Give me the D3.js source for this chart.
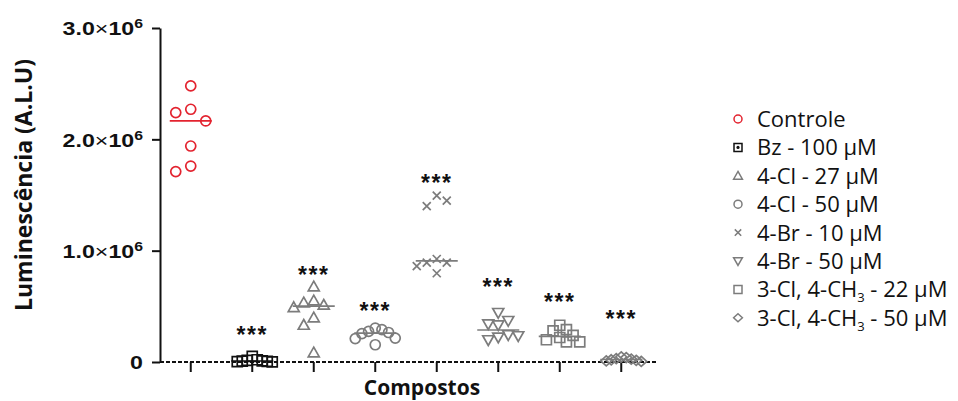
<!DOCTYPE html>
<html>
<head>
<meta charset="utf-8">
<script src="https://cdn.jsdelivr.net/npm/d3@7"></script>
<style>
  html, body { margin: 0; padding: 0; background: #fff; }
  svg { display: block; }
</style>
</head>
<body>
<div id="chart"></div>
<script>
// ---------------- DATA ----------------
const categories = [
  "Controle",
  "Bz - 100 µM",
  "4-Cl - 27 µM",
  "4-Cl - 50 µM",
  "4-Br - 10 µM",
  "4-Br - 50 µM",
  "3-Cl, 4-CH3 - 22 µM",
  "3-Cl, 4-CH3 - 50 µM"
];
const controle   = [2.48e6, 2.27e6, 2.24e6, 2.165e6, 1.94e6, 1.76e6, 1.71e6];
const bz100      = [0.05e6, 0.02e6, 0.015e6, 0.01e6, 0.008e6, 0.005e6, 0.003e6, 0.002e6];
const cl27       = [0.677e6, 0.551e6, 0.533e6, 0.512e6, 0.491e6, 0.398e6, 0.332e6, 0.084e6];
const cl50       = [0.305e6, 0.29e6, 0.275e6, 0.265e6, 0.255e6, 0.215e6, 0.21e6, 0.155e6];
const br10       = [1.494e6, 1.45e6, 1.40e6, 0.925e6, 0.892e6, 0.892e6, 0.862e6, 0.797e6];
const br50       = [0.443e6, 0.371e6, 0.341e6, 0.332e6, 0.243e6, 0.234e6, 0.222e6, 0.198e6];
const clch3_22   = [0.33e6, 0.29e6, 0.28e6, 0.24e6, 0.22e6, 0.20e6, 0.18e6, 0.18e6];
const clch3_50   = [0.045e6, 0.04e6, 0.03e6, 0.025e6, 0.02e6, 0.015e6, 0.01e6, 0.005e6];
const seriesValues = [controle, bz100, cl27, cl50, br10, br50, clch3_22, clch3_50];
// significance labels ("***") and their vertical positions (in data units)
const sigLabels = ["", "***", "***", "***", "***", "***", "***", "***"];
const sigY      = [null, 0.2875e6, 0.827e6, 0.506e6, 1.65e6, 0.721e6, 0.581e6, 0.431e6];
const yTicks = [0, 1e6, 2e6, 3e6];
const yTickLabels = ["0", "1.0×10^6", "2.0×10^6", "3.0×10^6"];
const yTitle = "Luminescência (A.L.U)";
const xTitle = "Compostos";

// ---------------- STYLE ----------------
const RED = "#e3232f", GRAY = "#7c7c7c", BLACK = "#111111";
const markerTypes = ["circle", "square", "triUp", "circle", "x", "triDown", "square", "diamond"];
const markerColors = [RED, BLACK, GRAY, GRAY, GRAY, GRAY, GRAY, GRAY];

const W = 958, H = 401;
const svg = d3.select("#chart").append("svg").attr("width", W).attr("height", H);

const x = d3.scalePoint().domain(categories).range([160, 652]).padding(0.5);
const y = d3.scaleLinear().domain([0, 3e6]).range([362, 28]);

function markerPath(type, s) {
  const h = s / 2;
  switch (type) {
    case "circle": {
      const p = d3.path(); p.moveTo(h, 0); p.arc(0, 0, h, 0, 2 * Math.PI); p.closePath(); return p.toString();
    }
    case "square": return `M${-h},${-h}H${h}V${h}H${-h}Z`;
    case "triUp": return `M0,${-s*0.55}L${s*0.55},${s*0.42}L${-s*0.55},${s*0.42}Z`;
    case "triDown": return `M0,${s*0.55}L${s*0.55},${-s*0.42}L${-s*0.55},${-s*0.42}Z`;
    case "x": { const a = s * 0.4; return `M${-a},${-a}L${a},${a}M${-a},${a}L${a},${-a}`; }
    case "diamond": return `M0,${-h}L${h*1.1},0L0,${h}L${-h*1.1},0Z`;
  }
}

// scatter spreading in rows (points closer than R px vertically get side slots of S px)
function swarm(vals, S, R, maxHalf) {
  const pts = vals.map(v => ({ v, py: y(v), dx: 0 })).sort((a, b) => a.py - b.py);
  const placed = [];
  pts.forEach((p, i) => {
    let found = 0;
    outer:
    for (let k = 0; k < 40; k++) {
      const cands = k === 0 ? [0] : (i % 2 ? [k * S, -k * S] : [-k * S, k * S]);
      for (const c of cands) {
        if (placed.every(q => Math.abs(q.dx - c) >= S * 0.99 || Math.abs(q.py - p.py) >= R)) { found = c; break outer; }
      }
    }
    p.dx = found;
    placed.push(p);
  });
  const m = d3.max(pts, p => Math.abs(p.dx));
  if (m > maxHalf) pts.forEach(p => p.dx = p.dx * maxHalf / m);
  return pts;
}

// ---------------- AXES ----------------
const y0 = y(0);
svg.append("line")
  .attr("x1", 160).attr("x2", 656).attr("y1", y0).attr("y2", y0)
  .attr("stroke", BLACK).attr("stroke-width", 2).attr("stroke-dasharray", "4,2");

svg.append("g").selectAll("line").data(categories).join("line")
  .attr("x1", d => x(d)).attr("x2", d => x(d))
  .attr("y1", y0).attr("y2", y0 + 10)
  .attr("stroke", BLACK).attr("stroke-width", 2);

const yAxis = d3.axisLeft(y).tickValues(yTicks).tickSize(8).tickSizeOuter(0).tickFormat(() => "");
const gy = svg.append("g").attr("transform", "translate(160,0)").call(yAxis);
gy.select(".domain").attr("stroke", BLACK).attr("stroke-width", 2);
gy.selectAll(".tick line").attr("stroke", BLACK).attr("stroke-width", 2);
gy.selectAll(".tick text").remove();
const SX = 1.22;
gy.selectAll(".tick").each(function (d) {
  const lbl = yTickLabels[yTicks.indexOf(d)];
  const t = d3.select(this).append("text")
    .attr("transform", `scale(${SX},1)`)
    .attr("x", -17 / SX).attr("dy", "0.36em")
    .attr("text-anchor", "end")
    .attr("font-family", "Liberation Sans, Arial, sans-serif")
    .attr("font-weight", "bold").attr("font-size", 19).attr("fill", BLACK);
  if (lbl.includes("×")) {
    const [mant, rest] = lbl.split("×");
    const [base, exp] = rest.split("^");
    t.append("tspan").text(mant);
    t.append("tspan").attr("font-weight", "normal").text("×");
    t.append("tspan").text(base);
    t.append("tspan").attr("font-size", 13).attr("dy", -7).text(exp);
  } else {
    t.text(lbl);
  }
});

svg.append("text")
  .attr("transform", "translate(32,185) rotate(-90)")
  .attr("text-anchor", "middle")
  .attr("font-family", "Open Sans, sans-serif").attr("font-weight", "bold")
  .attr("font-size", 23).attr("fill", BLACK)
  .text(yTitle);

svg.append("text")
  .attr("x", 422).attr("y", 395)
  .attr("text-anchor", "middle")
  .attr("font-family", "Open Sans, sans-serif").attr("font-weight", "bold")
  .attr("font-size", 21).attr("fill", BLACK)
  .text(xTitle);

// ---------------- POINTS ----------------
const plot = svg.append("g");
categories.forEach((cat, i) => {
  const vals = seriesValues[i];
  const pts = swarm(vals, 15, 12, 20);
  const g = plot.append("g");
  g.selectAll("path").data(pts).join("path")
    .attr("transform", p => `translate(${x(cat) + p.dx},${p.py})`)
    .attr("d", markerPath(markerTypes[i], 10))
    .attr("fill", "none")
    .attr("stroke", markerColors[i])
    .attr("stroke-width", 1.7);
  const med = d3.median(vals);
  g.append("line")
    .attr("x1", x(cat) - 21).attr("x2", x(cat) + 21)
    .attr("y1", y(med)).attr("y2", y(med))
    .attr("stroke", markerColors[i]).attr("stroke-width", 1.7);
  if (sigLabels[i]) {
    g.append("text")
      .attr("x", x(cat)).attr("y", y(sigY[i]) + 0.57 * 23)
      .attr("text-anchor", "middle")
      .attr("font-family", "Liberation Sans, Arial, sans-serif").attr("font-weight", "bold")
      .attr("font-size", 23).attr("letter-spacing", 1.5).attr("fill", BLACK)
      .text(sigLabels[i]);
  }
});

// ---------------- LEGEND ----------------
const legend = svg.append("g");
categories.forEach((cat, i) => {
  const ly = 119 + i * 28.4;
  const g = legend.append("g").attr("transform", `translate(738,${ly})`);
  g.append("path")
    .attr("d", markerPath(markerTypes[i], 8))
    .attr("fill", "none").attr("stroke", markerColors[i]).attr("stroke-width", 1.5);
  if (i === 1) g.append("circle").attr("r", 1.6).attr("fill", BLACK);
  const t = g.append("text")
    .attr("x", 19).attr("dy", "0.36em")
    .attr("font-family", "Open Sans, sans-serif").attr("font-size", 22).attr("fill", "#111");
  const parts = cat.split("CH3");
  if (parts.length > 1) {
    t.append("tspan").text(parts[0] + "CH");
    t.append("tspan").attr("font-size", 13).attr("dy", 5).text("3");
    t.append("tspan").attr("dy", -5).text(parts[1]);
  } else {
    t.text(cat);
  }
});
</script>
</body>
</html>
